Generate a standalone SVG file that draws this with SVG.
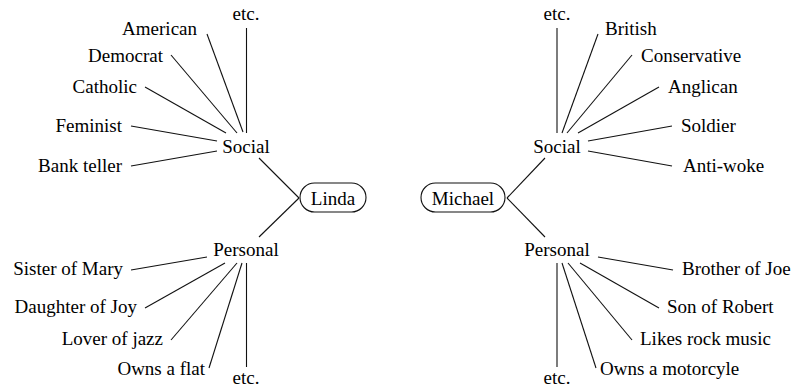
<svg xmlns="http://www.w3.org/2000/svg" width="799" height="391" viewBox="0 0 799 391" font-family="Liberation Serif, DejaVu Serif, serif" font-size="19">
<style>
.m{text-anchor:middle}
.e{text-anchor:end}
.s{text-anchor:start}
.c line{stroke:#111;stroke-width:1.1}
.box{fill:#fff;stroke:#111;stroke-width:1.1}
</style>
<g class="c" id="connectors">
<line x1="246.5" y1="28" x2="246.5" y2="133"/>
<line x1="207" y1="34" x2="243" y2="132"/>
<line x1="171" y1="55" x2="237" y2="133"/>
<line x1="145" y1="87" x2="226" y2="133"/>
<line x1="131" y1="126" x2="217" y2="141"/>
<line x1="131" y1="166" x2="217" y2="151"/>
<line x1="259" y1="158" x2="299" y2="198"/>
<line x1="299" y1="198" x2="259" y2="237"/>
<line x1="131" y1="270" x2="207" y2="257"/>
<line x1="145" y1="308" x2="225" y2="263"/>
<line x1="171" y1="340" x2="237" y2="263"/>
<line x1="209" y1="368" x2="242" y2="263"/>
<line x1="246.5" y1="263" x2="246.5" y2="367"/>
<line x1="557" y1="28" x2="557" y2="133"/>
<line x1="598" y1="34" x2="562" y2="133"/>
<line x1="632" y1="55" x2="567" y2="133"/>
<line x1="659" y1="87" x2="578" y2="133"/>
<line x1="672" y1="126" x2="588" y2="141"/>
<line x1="588" y1="151" x2="672" y2="166"/>
<line x1="545" y1="158" x2="507" y2="198"/>
<line x1="507" y1="198" x2="545" y2="237"/>
<line x1="598" y1="257" x2="673" y2="270"/>
<line x1="580" y1="263" x2="659" y2="308"/>
<line x1="568" y1="263" x2="632" y2="340"/>
<line x1="562" y1="263" x2="596" y2="368"/>
<line x1="557" y1="263" x2="557" y2="367"/>
</g>
<g id="linda"><rect class="box" x="300" y="183" width="66" height="29" rx="14.5"/><text class="m" x="333" y="205">Linda</text></g>
<g id="michael"><rect class="box" x="421" y="183" width="84" height="29" rx="14.5"/><text class="m" x="463" y="205">Michael</text></g>
<g id="l-social"><text class="m" x="246" y="153">Social</text></g>
<g id="l-personal"><text class="m" x="246" y="256">Personal</text></g>
<g id="l-etc-top"><text class="m" x="246" y="20">etc.</text></g>
<g id="l-american"><text class="e" x="197" y="35">American</text></g>
<g id="l-democrat"><text class="e" x="163" y="62">Democrat</text></g>
<g id="l-catholic"><text class="e" x="137" y="93">Catholic</text></g>
<g id="l-feminist"><text class="e" x="122" y="132">Feminist</text></g>
<g id="l-bank"><text class="e" x="122" y="172">Bank teller</text></g>
<g id="l-sister"><text class="e" x="123" y="275">Sister of Mary</text></g>
<g id="l-daughter"><text class="e" x="137" y="313">Daughter of Joy</text></g>
<g id="l-jazz"><text class="e" x="163" y="345">Lover of jazz</text></g>
<g id="l-flat"><text class="e" x="205" y="375">Owns a flat</text></g>
<g id="l-etc-bot"><text class="m" x="246" y="384">etc.</text></g>
<g id="m-social"><text class="m" x="557" y="153">Social</text></g>
<g id="m-personal"><text class="m" x="557" y="256">Personal</text></g>
<g id="m-etc-top"><text class="m" x="557" y="20">etc.</text></g>
<g id="m-british"><text class="s" x="605" y="35">British</text></g>
<g id="m-conservative"><text class="s" x="641" y="62">Conservative</text></g>
<g id="m-anglican"><text class="s" x="668" y="93">Anglican</text></g>
<g id="m-soldier"><text class="s" x="681" y="132">Soldier</text></g>
<g id="m-antiwoke"><text class="s" x="683" y="172">Anti-woke</text></g>
<g id="m-brother"><text class="s" x="682" y="275">Brother of Joe</text></g>
<g id="m-son"><text class="s" x="667" y="313">Son of Robert</text></g>
<g id="m-rock"><text class="s" x="640" y="345">Likes rock music</text></g>
<g id="m-motor"><text class="s" x="600" y="375">Owns a motorcyle</text></g>
<g id="m-etc-bot"><text class="m" x="557" y="384">etc.</text></g>
</svg>
